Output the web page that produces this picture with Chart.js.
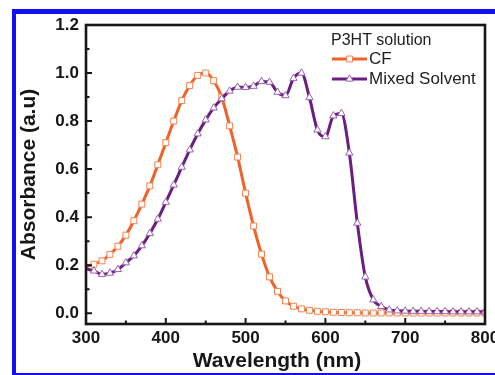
<!DOCTYPE html>
<html>
<head>
<meta charset="utf-8">
<script src="https://cdn.jsdelivr.net/npm/chart.js@4/dist/chart.umd.min.js"></script>
<style>
  html, body { margin: 0; padding: 0; background: #fff; overflow: hidden; }
  canvas { display: block; }
</style>
</head>
<body>
<canvas id="c" width="495" height="375"></canvas>
<script>
// Wavelength grid (nm)
const wavelengths = [300,310,320,330,340,350,360,370,380,390,400,410,420,430,440,450,460,470,480,490,
  500,510,520,530,540,550,560,570,580,590,600,610,620,630,640,650,660,670,680,690,
  700,710,720,730,740,750,760,770,780,790,800];

// Normalised absorbance, P3HT in chloroform
const cfAbs = [0.195,0.204,0.218,0.245,0.279,0.325,0.385,0.454,0.530,0.618,0.710,0.800,0.885,0.948,0.990,1.000,0.968,0.900,0.780,0.650,
  0.500,0.363,0.246,0.151,0.091,0.051,0.029,0.018,0.012,0.008,0.006,0.004,0.003,0.002,0.002,0.001,0.001,0.001,0.001,0.001,
  0.001,0.001,0.001,0.001,0.001,0.001,0.001,0.001,0.001,0.001,0.001];

// Normalised absorbance, P3HT in the mixed solvent
const mixedAbs = [0.185,0.176,0.162,0.167,0.182,0.210,0.239,0.281,0.332,0.392,0.462,0.534,0.608,0.680,0.747,0.805,0.855,0.893,0.925,0.941,
  0.940,0.945,0.965,0.962,0.920,0.906,0.978,1.000,0.898,0.763,0.735,0.822,0.832,0.667,0.375,0.151,0.056,0.028,0.014,0.010,
  0.009,0.008,0.008,0.007,0.007,0.007,0.006,0.006,0.006,0.006,0.006];

const seriesNames = ['CF', 'Mixed Solvent'];
const legendTitle = 'P3HT solution';
const xTitle = 'Wavelength (nm)';
const yTitle = 'Absorbance (a.u)';

const xTicks = [300, 400, 500, 600, 700, 800];
const xMinorTicks = [350, 450, 550, 650, 750];
const yTicks = [0.0, 0.2, 0.4, 0.6, 0.8, 1.0, 1.2];
const yMinorTicks = [0.1, 0.3, 0.5, 0.7, 0.9, 1.1];

const FONT = '"Liberation Sans", Arial, Helvetica, sans-serif';
const ORANGE = '#f0622a';
const ORANGE_MK = '#f3824e';
const PURPLE = '#6a1f80';
const PURPLE_MK = '#9a62b0';
const INK = '#161616';
const EDGE = '#1010f0';

// White page with the blue rule along the top, left and bottom edges
const pagePlugin = {
  id: 'page',
  beforeDraw(chart) {
    const { ctx, width, height } = chart;
    ctx.save();
    ctx.fillStyle = '#fff';
    ctx.fillRect(0, 0, width, height);
    ctx.fillStyle = EDGE;
    ctx.fillRect(12, 9, width - 12, 5);
    ctx.fillRect(12, 9, 4, height - 9);
    ctx.fillRect(12, height - 2, width - 12, 2);
    ctx.restore();
  }
};

// Closed frame with inward major/minor ticks
const framePlugin = {
  id: 'frame',
  afterDatasetsDraw(chart) {
    const { ctx, chartArea: a, scales: { x, y } } = chart;
    ctx.save();
    ctx.strokeStyle = INK;
    ctx.lineWidth = 2;
    ctx.beginPath();
    const tick = (vals, len, horiz) => {
      vals.forEach(v => {
        if (horiz) {
          const px = x.getPixelForValue(v);
          ctx.moveTo(px, a.bottom); ctx.lineTo(px, a.bottom - len);
        } else {
          const py = y.getPixelForValue(v);
          ctx.moveTo(a.left, py); ctx.lineTo(a.left + len, py);
        }
      });
    };
    tick(xTicks, 6, true);
    tick(xMinorTicks, 3.5, true);
    tick(yTicks, 6, false);
    tick(yMinorTicks, 3.5, false);
    ctx.stroke();
    ctx.lineWidth = 2.6;
    ctx.strokeRect(a.left, a.top, a.right - a.left, a.bottom - a.top);

    // x-axis title, a little left of the plot centre
    ctx.fillStyle = INK;
    ctx.font = 'bold 21px ' + FONT;
    ctx.textAlign = 'center';
    ctx.textBaseline = 'alphabetic';
    ctx.fillText(xTitle, 277, 367);
    ctx.restore();
  }
};

// Legend block: title line followed by line+marker samples
const legendPlugin = {
  id: 'sampleLegend',
  afterDraw(chart) {
    const { ctx } = chart;
    ctx.save();
    ctx.fillStyle = '#222';
    ctx.font = '16px ' + FONT;
    ctx.textBaseline = 'middle';
    ctx.textAlign = 'left';
    ctx.fillText(legendTitle, 331, 41);
    const rows = [59, 79];
    chart.data.datasets.forEach((ds, i) => {
      const yy = rows[i];
      ctx.strokeStyle = ds.borderColor;
      ctx.lineWidth = ds.borderWidth;
      ctx.beginPath(); ctx.moveTo(332, yy); ctx.lineTo(367, yy); ctx.stroke();
      ctx.fillStyle = '#fff';
      ctx.strokeStyle = ds.pointBorderColor;
      ctx.lineWidth = 1;
      const cx = 349.5, r = 4.2;
      ctx.beginPath();
      if (ds.pointStyle === 'rect') {
        const s = Math.SQRT1_2 * r;
        ctx.rect(cx - s, yy - s, 2 * s, 2 * s);
      } else {
        ctx.moveTo(cx, yy - r);
        ctx.lineTo(cx + r * 0.87, yy + r * 0.5);
        ctx.lineTo(cx - r * 0.87, yy + r * 0.5);
        ctx.closePath();
      }
      ctx.fill(); ctx.stroke();
      ctx.fillStyle = '#222';
      ctx.font = '17px ' + FONT;
      ctx.fillText(ds.label, 369, yy);
    });
    ctx.restore();
  }
};

new Chart(document.getElementById('c'), {
  type: 'line',
  data: {
    labels: wavelengths,
    datasets: [
      {
        label: seriesNames[0],
        data: wavelengths.map((w, i) => ({ x: w, y: cfAbs[i] })),
        borderColor: ORANGE,
        borderWidth: 3,
        pointStyle: 'rect',
        pointBorderWidth: 1,
        pointBorderColor: ORANGE_MK,
        pointBackgroundColor: '#fff',
        cubicInterpolationMode: 'monotone',
        order: 1
      },
      {
        label: seriesNames[1],
        data: wavelengths.map((w, i) => ({ x: w, y: mixedAbs[i] })),
        borderColor: PURPLE,
        borderWidth: 3,
        pointStyle: 'triangle',
        pointBorderWidth: 1,
        pointBorderColor: PURPLE_MK,
        pointBackgroundColor: '#fff',
        cubicInterpolationMode: 'monotone',
        order: 0
      }
    ]
  },
  options: {
    responsive: false,
    animation: false,
    devicePixelRatio: 1,
    layout: { padding: { left: 0, top: 25, right: 10, bottom: 0 } },
    elements: {
      point: {
        radius: ctx => (ctx.dataIndex === 0 ? 0 : 4.2)
      }
    },
    plugins: { legend: { display: false }, tooltip: { enabled: false } },
    scales: {
      x: {
        type: 'linear',
        min: 300, max: 800,
        afterFit: s => { s.height = 51; s.paddingLeft = 0; s.paddingRight = 0; },
        afterBuildTicks: s => { s.ticks = xTicks.map(v => ({ value: v })); },
        grid: { display: false, drawTicks: false },
        border: { display: false },
        ticks: {
          padding: 4,
          color: INK,
          maxRotation: 0,
          font: { family: FONT, size: 17, weight: 'bold' },
          callback: v => String(v)
        },
        title: { display: false }
      },
      y: {
        type: 'linear',
        min: -0.045, max: 1.2,
        afterFit: s => { s.width = 86; s.paddingTop = 0; s.paddingBottom = 0; },
        afterBuildTicks: s => { s.ticks = yTicks.map(v => ({ value: v })); },
        grid: { display: false, drawTicks: false },
        border: { display: false },
        ticks: {
          padding: 7,
          color: INK,
          font: { family: FONT, size: 17, weight: 'bold' },
          callback: v => Number(v).toFixed(1)
        },
        title: {
          display: true,
          text: yTitle,
          color: INK,
          font: { family: FONT, size: 21, weight: 'bold' },
          padding: { top: 17, bottom: 0 }
        }
      }
    }
  },
  plugins: [pagePlugin, framePlugin, legendPlugin]
});
</script>
</body>
</html>
